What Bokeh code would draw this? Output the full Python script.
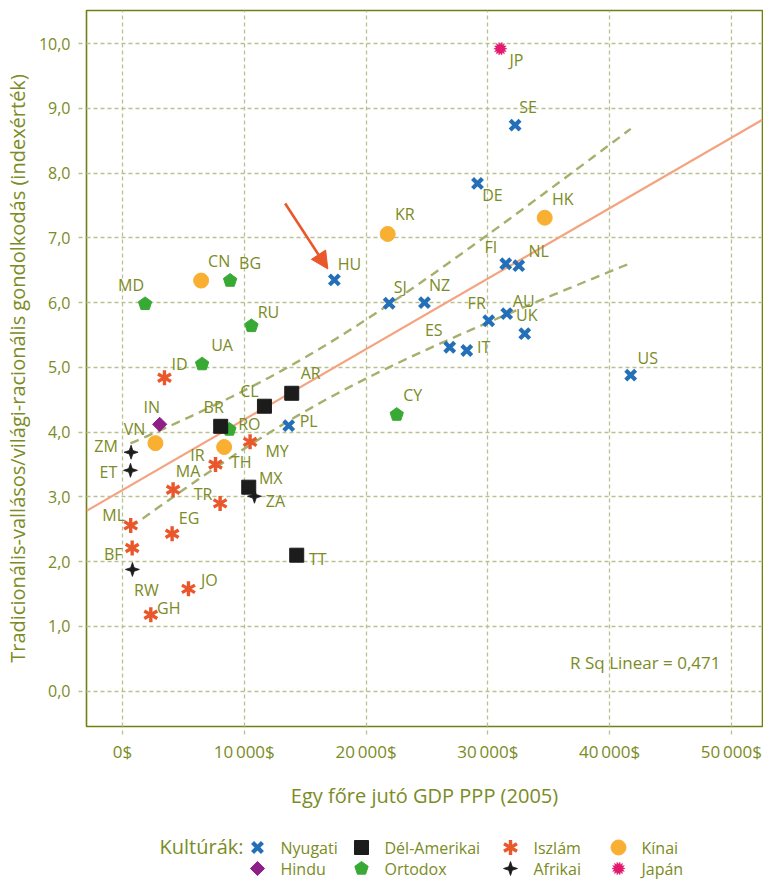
import numpy as np
from bokeh.plotting import figure
from bokeh.layouts import column
from bokeh.models import (Range1d, FixedTicker, ColumnDataSource, Arrow, NormalHead, Label)
from bokeh.core.properties import value
from bokeh.embed import file_html
from bokeh.resources import INLINE

# ---------------- data ----------------
country = ["HU", "SJ", "NZ", "DE", "SE", "FI", "NL", "FR", "AU", "UK", "ES", "IT", "US", "PL",
           "BR", "CL", "AR", "MX", "TT",
           "ID", "MY", "IR", "MA", "TR", "ML", "EG", "BF", "JO", "GH",
           "CN", "KR", "HK", "VN", "TH",
           "IN",
           "MD", "BG", "RU", "UA", "RO", "CY",
           "ZM", "ET", "ZA", "RW",
           "JP"]
gdp = [17400, 21900, 24800, 29150, 32240, 31470, 32540, 30070, 31550, 33030, 26870, 28270, 41730, 13650,
       8070, 11660, 13900, 10370, 14310,
       3450, 10480, 7640, 4160, 8020, 680, 4080, 800, 5420, 2330,
       6460, 21780, 34670, 2710, 8350,
       3060,
       1860, 8840, 10590, 6540, 8780, 22520,
       710, 660, 10840, 820,
       31030]
score = [6.35, 5.99, 6.00, 7.84, 8.74, 6.60, 6.57, 5.72, 5.83, 5.52, 5.31, 5.26, 4.88, 4.10,
         4.09, 4.40, 4.60, 3.15, 2.10,
         4.84, 3.85, 3.50, 3.11, 2.90, 2.56, 2.43, 2.21, 1.58, 1.18,
         6.34, 7.06, 7.31, 3.83, 3.77,
         4.12,
         5.98, 6.34, 5.64, 5.05, 4.04, 4.27,
         3.69, 3.41, 3.01, 1.88,
         9.92]
culture = (["Nyugati"] * 14 + ["Dél-Amerikai"] * 5 + ["Iszlám"] * 10 + ["Kínai"] * 5 +
           ["Hindu"] + ["Ortodox"] * 6 + ["Afrikai"] * 4 + ["Japán"])

cultures_row1 = ["Nyugati", "Dél-Amerikai", "Iszlám", "Kínai"]
cultures_row2 = ["Hindu", "Ortodox", "Afrikai", "Japán"]

x_ticks = [0, 10000, 20000, 30000, 40000, 50000]
x_tick_labels = ["0$", "10\u2009000$", "20\u2009000$", "30\u2009000$", "40\u2009000$", "50\u2009000$"]
y_ticks = [0, 1, 2, 3, 4, 5, 6, 7, 8, 9, 10]
y_tick_labels = ["0,0", "1,0", "2,0", "3,0", "4,0", "5,0", "6,0", "7,0", "8,0", "9,0", "10,0"]

r_sq_text = "R Sq Linear = 0,471"
arrow_x = [13360, 16860]
arrow_y = [7.53, 6.52]

# ---------------- styles ----------------
OLIVE = "#7b8b25"
FRAME = "#6f8016"
GRID = "#b9c191"
BAND = "#a6b06c"
FIT = "#f5a27e"
FONT = "Open Sans"
colors = {"Nyugati": "#2470b8", "Dél-Amerikai": "#1c1c1c", "Iszlám": "#e9572b", "Kínai": "#f9b032",
          "Hindu": "#8e1e88", "Ortodox": "#39a935", "Afrikai": "#1c1c1c", "Japán": "#e2196f"}

# label offsets in screen px (dx right, dy up)
lab_off = {"MD": (-14, 19), "CN": (18, 20), "BG": (20, 18), "RU": (17, 14), "HU": (15, 16), "KR": (17, 20),
           "SJ": (11, 16), "UA": (20, 19), "ID": (15, 14), "IN": (-8, 17), "VN": (-21, 14), "ZM": (-25, 6),
           "ET": (-22, -2), "BR": (-7, 19), "RO": (20, 6), "CL": (-15, 15), "AR": (19, 20), "PL": (20, 5),
           "CY": (16, 20), "MY": (27, -9), "TH": (17, -15), "IR": (-18, 10), "MA": (15, 19), "MX": (22, 9),
           "ZA": (21, -5), "TR": (-17, 9), "ML": (-17, 10), "EG": (17, 16), "BF": (-19, -6), "TT": (21, -4),
           "RW": (14, -21), "JO": (21, 9), "GH": (18, 7), "JP": (16, -11), "SE": (13, 18), "DE": (15, -12),
           "HK": (18, 19), "FI": (-15, 17), "NL": (20, 15), "NZ": (15, 18), "FR": (-12, 18), "AU": (17, 13),
           "UK": (2, 19), "ES": (-16, 17), "IT": (17, 4), "US": (17, 17)}

X0, X1 = -2950, 52550
Y0, Y1 = -0.545, 10.51
FW, FH = 676, 716
BL, BR_, BT, BB = 80, 1, 10, 97

p = figure(frame_width=FW, frame_height=FH, x_range=Range1d(X0, X1), y_range=Range1d(Y0, Y1),
           output_backend="svg", toolbar_location=None,
           min_border_left=BL, min_border_right=BR_, min_border_top=BT, min_border_bottom=BB)
p.background_fill_color = "white"
p.border_fill_color = "white"
p.outline_line_color = FRAME
p.outline_line_width = 1.6

for ax in (p.xaxis[0], p.yaxis[0]):
    ax.axis_line_color = None
    ax.major_tick_in = 0
    ax.major_tick_out = 8
    ax.major_tick_line_color = GRID
    ax.major_tick_line_dash = "4 3"
    ax.major_tick_line_width = 1.3
    ax.minor_tick_line_color = None
    ax.major_label_text_color = OLIVE
    ax.major_label_text_font = FONT
    ax.axis_label_text_color = OLIVE
    ax.axis_label_text_font = FONT
    ax.axis_label_text_font_style = "normal"
    ax.axis_label_text_font_size = "20px"

p.xaxis.major_label_text_font_size = "17px"
p.yaxis.major_label_text_font_size = "16px"
p.xaxis.ticker = FixedTicker(ticks=x_ticks)
p.xaxis.major_label_overrides = dict(zip(x_ticks, x_tick_labels))
p.yaxis.ticker = FixedTicker(ticks=y_ticks)
p.yaxis.major_label_overrides = dict(zip(y_ticks, y_tick_labels))
p.xaxis.major_label_standoff = 5
p.xaxis.axis_label_standoff = 16
p.yaxis.major_label_standoff = 8
p.yaxis.axis_label_standoff = 5
p.xaxis.axis_label = "Egy főre jutó GDP PPP (2005)"
p.yaxis.axis_label = "Tradicionális-vallásos/világi-racionális gondolkodás (indexérték)"

for g in (p.xgrid[0], p.ygrid[0]):
    g.grid_line_color = GRID
    g.grid_line_dash = "4 3"
    g.grid_line_width = 1.3

# ---------------- regression fit and 95% mean confidence band ----------------
xa = np.array(gdp, dtype=float)
ya = np.array(score, dtype=float)
n = len(xa)
b1, b0 = np.polyfit(xa, ya, 1)
res = ya - (b0 + b1 * xa)
s = np.sqrt(np.sum(res ** 2) / (n - 2))
xbar = xa.mean()
sxx = np.sum((xa - xbar) ** 2)
tval = 2.015
xs_band = np.linspace(xa.min(), xa.max(), 120)
half = tval * s * np.sqrt(1.0 / n + (xs_band - xbar) ** 2 / sxx)
fit_band = b0 + b1 * xs_band

p.line(xs_band, fit_band + half, line_color=BAND, line_width=2.4, line_dash="9 6")
p.line(xs_band, fit_band - half, line_color=BAND, line_width=2.4, line_dash="9 6")
p.line([X0, X1], [b0 + b1 * X0, b0 + b1 * X1], line_color=FIT, line_width=2.2)

# ---------------- marker helpers ----------------
sx = (X1 - X0) / FW   # data units per px
sy = (Y1 - Y0) / FH


def star_shape(cx, cy, npts, r_out, r_in, rot, ux, uy):
    ang = rot + np.arange(2 * npts) * np.pi / npts
    r = np.where(np.arange(2 * npts) % 2 == 0, r_out, r_in)
    return list(cx + r * np.cos(ang) * ux), list(cy + r * np.sin(ang) * uy)


def poly_shape(cx, cy, npts, r, rot, ux, uy):
    ang = rot + np.arange(npts) * 2 * np.pi / npts
    return list(cx + r * np.cos(ang) * ux), list(cy + r * np.sin(ang) * uy)


def draw_marker(fig, cult, xs, ys, ux, uy):
    c = colors[cult]
    if cult == "Nyugati":
        fig.scatter(xs, ys, marker="x", size=14, line_width=4.2, line_color=c)
    elif cult == "Dél-Amerikai":
        fig.scatter(xs, ys, marker="square", size=14, fill_color=c, line_color=c)
    elif cult == "Iszlám":
        x0s, y0s, x1s, y1s = [], [], [], []
        for a, b in zip(xs, ys):
            for ang in (np.pi / 2, np.pi / 6, 5 * np.pi / 6):
                dx, dy = 7.5 * np.cos(ang) * ux, 7.5 * np.sin(ang) * uy
                x0s.append(a - dx); y0s.append(b - dy); x1s.append(a + dx); y1s.append(b + dy)
        fig.segment(x0s, y0s, x1s, y1s, line_color=c, line_width=3.4)
    elif cult == "Kínai":
        fig.scatter(xs, ys, marker="circle", size=15, fill_color=c, line_color=c)
    elif cult == "Hindu":
        fig.scatter(xs, ys, marker="square", angle=np.pi / 4, size=10, fill_color=c, line_color=c)
    elif cult == "Ortodox":
        pxs, pys = [], []
        for a, b in zip(xs, ys):
            u, v = poly_shape(a, b, 5, 7, np.pi / 2, ux, uy)
            pxs.append(u); pys.append(v)
        fig.patches(pxs, pys, fill_color=c, line_color=c, line_width=1)
    elif cult == "Afrikai":
        pxs, pys = [], []
        for a, b in zip(xs, ys):
            u, v = star_shape(a, b, 4, 7, 2.5, np.pi / 2, ux, uy)
            pxs.append(u); pys.append(v)
        fig.patches(pxs, pys, fill_color=c, line_color=c, line_width=0.8)
    elif cult == "Japán":
        pxs, pys = [], []
        for a, b in zip(xs, ys):
            u, v = star_shape(a, b, 14, 6.5, 4.2, 0, ux, uy)
            pxs.append(u); pys.append(v)
        fig.patches(pxs, pys, fill_color=c, line_color=c, line_width=0.5)


order = ["Ortodox", "Afrikai", "Japán", "Hindu", "Kínai", "Iszlám", "Nyugati", "Dél-Amerikai"]
for cult in order:
    idx = [i for i, c in enumerate(culture) if c == cult]
    draw_marker(p, cult, [gdp[i] for i in idx], [score[i] for i in idx], sx, sy)

# country labels
src = ColumnDataSource(dict(x=gdp, y=score, t=country,
                            dx=[lab_off[c][0] for c in country],
                            dy=[-lab_off[c][1] for c in country]))
p.text(x="x", y="y", text="t", x_offset="dx", y_offset="dy", source=src,
       text_align="center", text_baseline="middle", text_color=OLIVE,
       text_font=value(FONT), text_font_size="16px")

# annotations
p.add_layout(Arrow(x_start=arrow_x[0], y_start=arrow_y[0], x_end=arrow_x[1], y_end=arrow_y[1],
                   line_color="#e9572b", line_width=2.6,
                   end=NormalHead(size=17, fill_color="#e9572b", line_color="#e9572b")))
p.add_layout(Label(x=FW - 42, y=64, x_units="screen", y_units="screen", text=r_sq_text,
                   text_align="right", text_baseline="middle", text_color=OLIVE,
                   text_font=FONT, text_font_size="17px"))

# ---------------- legend (separate strip; its units are page pixels) ----------------
LH = 57
top = 1 + BT + FH + BB
leg = figure(frame_width=FW, height=LH, x_range=Range1d(88, 88 + FW), y_range=Range1d(top + LH, top),
             output_backend="svg", toolbar_location=None,
             min_border_left=BL, min_border_right=BR_, min_border_top=0, min_border_bottom=0,
             outline_line_color=None)
leg.axis.visible = False
leg.grid.visible = False
col_x = [259, 363, 512, 620]
row_y = [848, 869]
for r, row in enumerate([cultures_row1, cultures_row2]):
    for k, cult in enumerate(row):
        draw_marker(leg, cult, [col_x[k]], [row_y[r]], 1, -1)
        leg.text(x=[col_x[k] + 23], y=[row_y[r]], text=[cult], text_align="left",
                 text_baseline="middle", text_color=OLIVE, text_font=value(FONT),
                 text_font_size="16px")
leg.text(x=[245], y=[row_y[0] - 1], text=["Kultúrák:"], text_align="right", text_baseline="middle",
         text_color=OLIVE, text_font=value(FONT), text_font_size="20px")

layout = column(p, leg, spacing=0)
open("out.html", "w").write(file_html(layout, INLINE))
